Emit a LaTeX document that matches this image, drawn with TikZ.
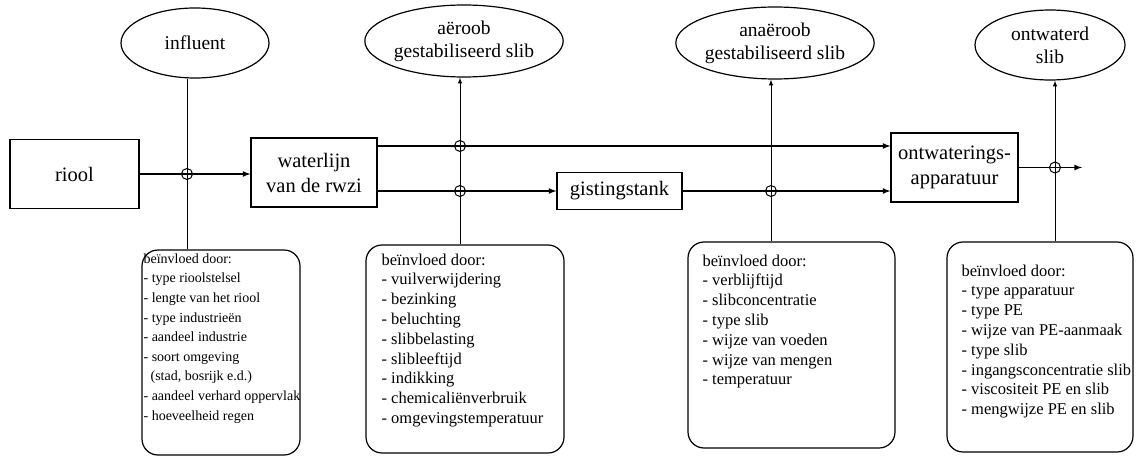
\documentclass[tikz,border=0pt]{standalone}
\usepackage{fontspec}
\setmainfont{Liberation Serif}
\usepackage{tikz}
\usetikzlibrary{positioning}
\usetikzlibrary{arrows}
\usetikzlibrary{shapes}

\begin{document}
\begin{tikzpicture}[x=1pt,y=-1pt,>=latex,
  proces/.style={draw,line width=1.2pt,rectangle,inner sep=0pt,align=center,font=\fontsize{20.5}{25}\selectfont},
  product/.style={draw,line width=1.2pt,ellipse,inner sep=0pt,align=center,font=\fontsize{19.5}{23}\selectfont},
  invloed/.style={draw,line width=1.2pt,rounded corners=16pt,inner sep=0pt},
  lijst/.style={inner sep=0pt,align=left,font=\fontsize{16.5}{19.8}\selectfont},
  flow/.style={line width=1.6pt,->},
  meet/.style={line width=1pt},
  meetpunt/.style={circle,draw,line width=1pt,inner sep=0pt,minimum size=11pt}]

\useasboundingbox (0,0) rectangle (1137,457);

% processen
\node[proces,minimum width=129pt,minimum height=69pt] (riool) at (74.5,174) {riool};
\node[proces,minimum width=126pt,minimum height=69pt] (waterlijn) at (314,172.5) {waterlijn\\van de rwzi};
\node[proces,minimum width=125pt,minimum height=37pt] (gisting) at (619.5,191) {gistingstank};
\node[proces,minimum width=127pt,minimum height=69pt] (ontwatering) at (954.5,167.5) {ontwaterings-\\apparatuur};

% producten
\node[product,minimum width=148pt,minimum height=70pt] (influent) at (195,43) {influent};
\node[product,minimum width=148pt,minimum height=72pt] (aeroob) at (464,41) {aëroob\\gestabiliseerd slib};
\node[product,minimum width=150pt,minimum height=72pt] (anaeroob) at (775,43) {anaëroob\\gestabiliseerd slib};
\node[product,minimum width=150pt,minimum height=70pt] (ontwaterd) at (1050,45) {ontwaterd\\slib};

% invloeden
\node[invloed,minimum width=158pt,minimum height=205pt] (inv1) at (221,352.5) {};
\node[invloed,minimum width=198pt,minimum height=208pt] (inv2) at (465,349) {};
\node[invloed,minimum width=207pt,minimum height=206pt] (inv3) at (791.5,345) {};
\node[invloed,minimum width=186pt,minimum height=210pt] (inv4) at (1040,347) {};

\node[lijst,font=\fontsize{14}{19.6}\selectfont,below right=4pt and 2pt of inv1.north west] (l1) {beïnvloed door:\\- type rioolstelsel\\- lengte van het riool\\- type industrieën\\- aandeel industrie\\- soort omgeving\\\hspace*{0.5em}(stad, bosrijk e.d.)\\- aandeel verhard oppervlak\\- hoeveelheid regen};
\node[lijst,below right=9pt and 16pt of inv2.north west] (l2) {beïnvloed door:\\- vuilverwijdering\\- bezinking\\- beluchting\\- slibbelasting\\- slibleeftijd\\- indikking\\- chemicaliënverbruik\\- omgevingstemperatuur};
\node[lijst,below right=13pt and 15pt of inv3.north west] (l3) {beïnvloed door:\\- verblijftijd\\- slibconcentratie\\- type slib\\- wijze van voeden\\- wijze van mengen\\- temperatuur};
\node[lijst,below right=23pt and 15pt of inv4.north west] (l4) {beïnvloed door:\\- type apparatuur\\- type PE\\- wijze van PE-aanmaak\\- type slib\\- ingangsconcentratie slib\\- viscositeit PE en slib\\- mengwijze PE en slib};

% stromen
\coordinate (wbo) at ([yshift=26.5pt]waterlijn.east);
\coordinate (uit) at (1082,167.5);
\draw[flow] (riool.east) -- (riool.east -| waterlijn.west);
\draw[flow] (wbo) -- (wbo -| ontwatering.west);
\draw[flow] (gisting.west -| waterlijn.east) -- (gisting.west);
\draw[flow] (gisting.east) -- (gisting.east -| ontwatering.west);
\draw[flow] (ontwatering.east) -- (uit);

% meetpunten
\node[meetpunt] (m1) at (187,174) {};
\node[meetpunt] (m2) at (460,146) {};
\node[meetpunt] (m3) at (460,191) {};
\node[meetpunt] (m4) at (771,191) {};
\node[meetpunt] (m5) at (1055,167.5) {};

\draw[meet] (influent.south -| m1) -- (m1 |- inv1.north);
\draw[meet,->] (m3 |- inv2.north) -- (m3 |- aeroob.south);
\draw[meet,->] (m4 |- inv3.north) -- (m4 |- anaeroob.south);
\draw[meet,->] (m5 |- inv4.north) -- (m5 |- ontwaterd.south);
\end{tikzpicture}
\end{document}
